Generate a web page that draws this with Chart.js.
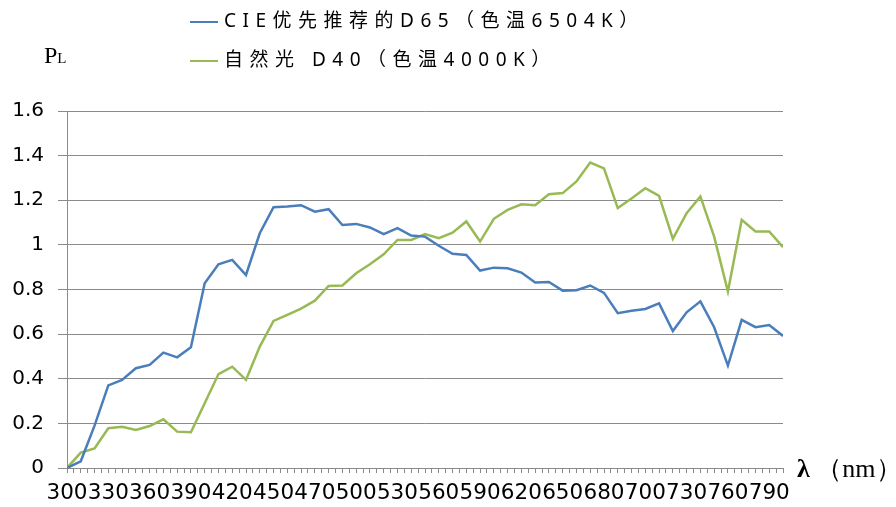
<!DOCTYPE html>
<html>
<head>
<meta charset="utf-8">
<script src="https://cdn.jsdelivr.net/npm/chart.js@4"></script>
<style>
  body { margin: 0; background: #fff; }
  #wrap { position: relative; width: 896px; height: 507px; }
  .leg { position: absolute; left: 190px; height: 24px; line-height: 24px;
         font-family: "Noto Sans", "Noto Sans CJK SC", sans-serif; font-size: 19px;
         letter-spacing: 6.5px; color: #000; white-space: nowrap; }
  .leg i { display: inline-block; width: 28px; height: 2.5px; vertical-align: middle;
           margin-right: 6px; letter-spacing: 0; }
  .serif { position: absolute; font-family: "Liberation Serif", serif; color: #000; white-space: nowrap; }
</style>
</head>
<body>
<div id="wrap">
  <canvas id="spectra" width="896" height="507"></canvas>
  <div id="legend"></div>
  <div class="serif" style="left:44px; top:42px; font-size:24px;">P<span style="font-size:15px;">L</span></div>
  <div class="serif" style="left:797px; top:451px; font-size:26px;"><b>λ</b>&nbsp;（nm）</div>
</div>
<script>
const wavelengths = [
  300, 310, 320, 330, 340, 350, 360, 370, 380, 390, 400, 410, 420, 430, 440, 450,
  455, 460,
  470, 480, 490, 500, 510, 520, 530, 540, 550, 560, 570, 580, 590, 600, 610, 620,
  630, 640, 650, 660, 670, 680,
  690, 695,
  700, 710, 720, 730, 740, 750, 760, 770, 780, 790, 800
];

const d65 = [
  0.00, 0.03, 0.19, 0.37, 0.395, 0.447, 0.462, 0.517, 0.496, 0.541,
  0.828, 0.913, 0.933, 0.865, 1.052, 1.169, 1.172, 1.178, 1.149, 1.160,
  1.089, 1.094, 1.078, 1.048, 1.075, 1.042, 1.037, 0.996, 0.960, 0.955,
  0.885, 0.898, 0.895, 0.876, 0.831, 0.834, 0.795, 0.797, 0.818, 0.785,
  0.694, 0.705, 0.713, 0.738, 0.614, 0.698, 0.747, 0.631, 0.459, 0.664,
  0.631, 0.641, 0.592
];

const d40 = [
  0.00, 0.069, 0.088, 0.178, 0.185, 0.170, 0.188, 0.218, 0.163, 0.160,
  0.29, 0.421, 0.454, 0.395, 0.544, 0.659, 0.686, 0.714, 0.750, 0.816,
  0.818, 0.873, 0.913, 0.958, 1.022, 1.022, 1.048, 1.030, 1.055, 1.105,
  1.015, 1.117, 1.157, 1.182, 1.178, 1.227, 1.232, 1.284, 1.369, 1.343,
  1.165, 1.208, 1.254, 1.220, 1.027, 1.142, 1.217, 1.037, 0.791, 1.112,
  1.060, 1.060, 0.990
];

const seriesNames = ['CIE优先推荐的D65（色温6504K）', '自然光 D40（色温4000K）'];
const yTicks = { min: 0, max: 1.6, step: 0.2 };

const axisGray = '#8a8a8a';

// x is the position in the wavelength list, so the two uneven steps keep the same spacing
const toPoints = (vals) => vals.map((v, i) => ({ x: i, y: v }));

const spectra_data = {
  datasets: [{
    label: seriesNames[0],
    data: toPoints(d65),
    borderColor: '#4a7ebb',
    backgroundColor: '#4a7ebb'
  }, {
    label: seriesNames[1],
    data: toPoints(d40),
    borderColor: '#98b954',
    backgroundColor: '#98b954'
  }]
};

const spectra_config = {
  type: 'line',
  data: spectra_data,
  options: {
    responsive: false,
    animation: false,
    layout: { padding: { left: 0, right: 113, top: 111, bottom: 0 } },
    elements: {
      line: { borderWidth: 2.5, tension: 0 },
      point: { radius: 0 }
    },
    plugins: {
      legend: { display: false },
      tooltip: { enabled: false }
    },
    scales: {
      x: {
        type: 'linear',
        min: 0,
        max: wavelengths.length - 1,
        grid: { drawOnChartArea: false, color: axisGray, tickLength: 5 },
        border: { color: axisGray },
        ticks: {
          stepSize: 0.5,
          autoSkip: false,
          maxRotation: 0,
          padding: 8,
          color: '#000',
          font: { family: 'DejaVu Sans', size: 21.5 },
          callback: (v) => (Number.isInteger(v) && v % 3 === 0) ? wavelengths[v] : ''
        },
        afterFit: (scale) => { scale.height = 39; }
      },
      y: {
        min: yTicks.min,
        max: yTicks.max,
        grid: { color: axisGray, tickLength: 9 },
        border: { color: axisGray },
        ticks: {
          stepSize: yTicks.step,
          padding: 14,
          color: '#000',
          font: { family: 'DejaVu Sans', size: 20 },
          callback: (v) => String(+v.toFixed(1))
        },
        afterFit: (scale) => { scale.width = 67; }
      }
    }
  }
};

const spectra = new Chart(document.getElementById('spectra'), spectra_config);

// two-row legend above the plot, like the original
const legend = document.getElementById('legend');
spectra.data.datasets.forEach((ds, i) => {
  const row = document.createElement('div');
  row.className = 'leg';
  row.style.top = (8 + i * 39) + 'px';
  row.innerHTML = '<i style="background:' + ds.borderColor + '"></i>' + ds.label;
  legend.appendChild(row);
});
</script>
</body>
</html>
